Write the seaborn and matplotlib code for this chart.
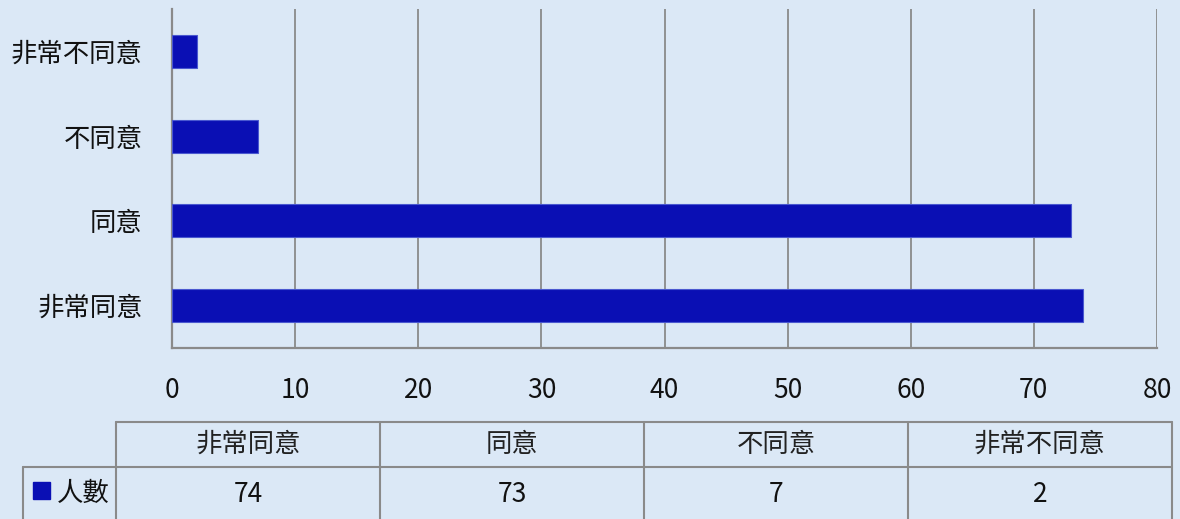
import matplotlib
matplotlib.use("Agg")
import matplotlib.pyplot as plt
import seaborn as sns
import pandas as pd

# ---- data ----
categories = ["非常同意", "同意", "不同意", "非常不同意"]
values = [74, 73, 7, 2]
series_name = "人數"
x_ticks = [0, 10, 20, 30, 40, 50, 60, 70, 80]

sns.set_theme(style="white")
plt.rcParams["font.family"] = ["Noto Sans CJK TC", "DejaVu Sans"]
plt.rcParams["font.weight"] = "light"

W, H = 1180, 519
BG = "#dbe8f6"
BAR = "#0a0fb4"
GRID = "#8a8a8a"
FS = 19

df = pd.DataFrame({"cat": categories, "val": values})

fig = plt.figure(figsize=(W / 100, H / 100), dpi=100, facecolor=BG)

# main plot area (pixel layout)
L, R, T, B = 172, 1157, 9, 348
ax = fig.add_axes([L / W, 1 - B / H, (R - L) / W, (B - T) / H])
ax.set_facecolor("none")

sns.barplot(data=df, x="val", y="cat", order=categories[::-1], orient="h",
            color=BAR, saturation=1, width=0.39, ax=ax,
            edgecolor="#4a58d0", linewidth=0.8, zorder=3)

ax.set_xlim(x_ticks[0], x_ticks[-1])
ax.set_xticks(x_ticks)
ax.set_xlabel("")
ax.set_ylabel("")
ax.xaxis.grid(True, color=GRID, linewidth=1.3, zorder=0)
ax.set_axisbelow(True)
for s in ["top", "right"]:
    ax.spines[s].set_visible(False)
for s in ["left", "bottom"]:
    ax.spines[s].set_color(GRID)
    ax.spines[s].set_linewidth(1.6)
ax.tick_params(axis="x", length=0, pad=21, labelsize=FS, labelcolor="#111111")
ax.tick_params(axis="y", length=0, pad=21, labelsize=FS, labelcolor="#111111")

# ---- data table below ----
tab = fig.add_axes([0, 0, 1, 1])
tab.set_xlim(0, W)
tab.set_ylim(H, 0)
tab.axis("off")
tab.patch.set_alpha(0)

col_left = 116
col_w = 264
ncol = len(categories)
row_top, row_mid, row_bot = 422, 467, 525
leg_left = 23
lc = "#8a8a8a"
lw = 1.5

tab.plot([col_left, col_left + ncol * col_w], [row_top, row_top], color=lc, lw=lw)
tab.plot([leg_left, col_left + ncol * col_w], [row_mid, row_mid], color=lc, lw=lw)
for i in range(ncol + 1):
    x = col_left + i * col_w
    tab.plot([x, x], [row_top, row_bot], color=lc, lw=lw)
tab.plot([leg_left, leg_left], [row_mid, row_bot], color=lc, lw=lw)

for i, (c, v) in enumerate(zip(categories, values)):
    cx = col_left + (i + 0.5) * col_w
    tab.text(cx, (row_top + row_mid) / 2, c, ha="center", va="center",
             fontsize=FS, color="#222222")
    tab.text(cx, 495, str(v), ha="center", va="center",
             fontsize=FS, color="#111111")

# legend key
tab.add_patch(plt.Rectangle((33, 482), 17, 17, color=BAR))
tab.text(57, 493, series_name, ha="left", va="center", fontsize=FS, color="#111111")

fig.savefig("out.png", dpi=100, facecolor=BG)
